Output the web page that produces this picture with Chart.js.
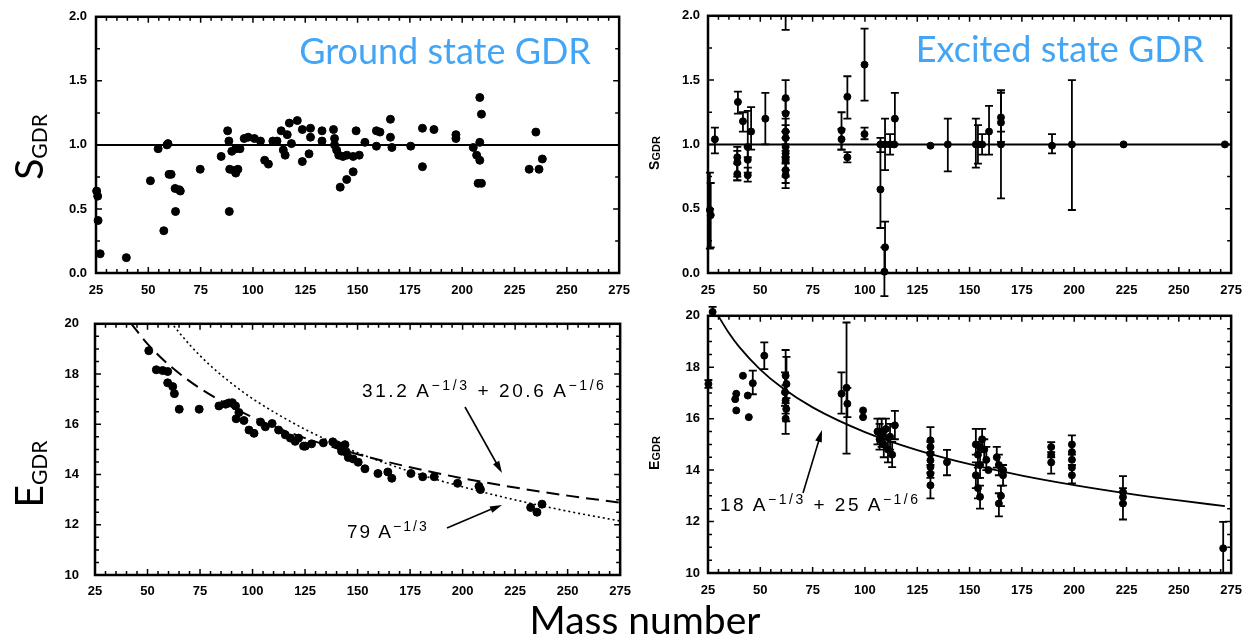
<!DOCTYPE html>
<html><head><meta charset="utf-8">
<script src="https://cdn.jsdelivr.net/npm/chart.js@4.4.1/dist/chart.umd.min.js"></script>
<style>
html,body{margin:0;padding:0;background:#fff;width:1252px;height:637px;overflow:hidden;position:relative;}
.wrap{position:absolute;}
#ov{position:absolute;left:0;top:0;pointer-events:none;}
</style></head>
<body>
<div class="wrap" style="left:0;top:0;width:640px;height:300px"><canvas id="cTL" width="640" height="300"></canvas></div>
<div class="wrap" style="left:640px;top:0;width:612px;height:300px"><canvas id="cTR" width="612" height="300"></canvas></div>
<div class="wrap" style="left:0;top:300px;width:640px;height:300px"><canvas id="cBL" width="640" height="300"></canvas></div>
<div class="wrap" style="left:640px;top:300px;width:612px;height:300px"><canvas id="cBR" width="612" height="300"></canvas></div>
<svg id="ov" width="1252" height="637">
  <text x="445" y="64" text-anchor="middle" font-family="Lato" font-size="36" fill="#42a5f5">Ground state GDR</text>
  <text x="1060" y="62" text-anchor="middle" font-family="Lato" font-size="36" fill="#42a5f5">Excited state GDR</text>
  <text x="645" y="634" text-anchor="middle" font-family="Lato" font-size="39" fill="#000">Mass number</text>
  <text transform="translate(43,147) rotate(-90)" text-anchor="middle" font-family="Lato" font-size="39" fill="#000">S<tspan font-size="21" dy="4">GDR</tspan></text>
  <text transform="translate(43,474) rotate(-90)" text-anchor="middle" font-family="Lato" font-size="39" fill="#000">E<tspan font-size="21" dy="4">GDR</tspan></text>
  <text transform="translate(659,153) rotate(-90)" text-anchor="middle" font-family="Liberation Sans" font-weight="bold" font-size="14" fill="#000">S<tspan font-size="11" dy="1">GDR</tspan></text>
  <text transform="translate(659,453) rotate(-90)" text-anchor="middle" font-family="Liberation Sans" font-weight="bold" font-size="14" fill="#000">E<tspan font-size="11" dy="1">GDR</tspan></text>
  <text x="362" y="397" font-family="Liberation Sans" font-size="19" letter-spacing="2.6" fill="#000">31.2 A<tspan font-size="14" dy="-7">−1/3</tspan><tspan dy="7"> + 20.6 A</tspan><tspan font-size="14" dy="-7">−1/6</tspan></text>
  <text x="347" y="538" font-family="Liberation Sans" font-size="19" letter-spacing="2" fill="#000">79 A<tspan font-size="14" dy="-7">−1/3</tspan></text>
  <text x="720" y="511" font-family="Liberation Sans" font-size="19" letter-spacing="2.5" fill="#000">18 A<tspan font-size="14" dy="-7">−1/3</tspan><tspan dy="7"> + 25 A</tspan><tspan font-size="14" dy="-7">−1/6</tspan></text>
  <g stroke="#000" stroke-width="1.6">
    <line x1="465" y1="407" x2="498" y2="466"/>
    <line x1="447" y1="528" x2="494" y2="508"/>
    <line x1="803" y1="493" x2="819" y2="440"/>
  </g>
  <g fill="#000">
    <polygon points="502,473 493.1,464.2 499.2,460.8"/>
    <polygon points="502,505 492.3,512.8 489.5,506.4"/>
    <polygon points="822,430 821.8,442.5 815.2,440.5"/>
  </g>
</svg>
<script>
// ---------- data ----------
const xTickValues = [25,50,75,100,125,150,175,200,225,250,275];
const sTickValues = [0,0.5,1,1.5,2];
const sTickLabels = ['0.0','0.5','1.0','1.5','2.0'];
const eTickValues = [10,12,14,16,18,20];
const eTickLabels = ['10','12','14','16','18','20'];

// Ground state strength
const gsS_A = [25.3,25.8,26,27,39.5,51.0,54.7,57.4,58.9,59.4,59.9,60.9,63.0,62.8,64.8,65.3,74.8,84.8,87.9,88.5,88.7,88.9,90.9,92.8,91.8,89.9,91.8,93.8,95.8,97.7,100.7,103.6,105.6,107.4,109.5,111.5,113.5,114.5,115.4,116.4,117.4,118.4,121.2,123.6,123.6,126.8,127.5,127.5,133.0,133.0,138.5,139.0,139.0,140.0,141.0,143.0,144.9,147.9,150.8,141.7,144.8,147.9,149.3,153.5,159.0,160.7,159.0,165.7,165.7,166.4,175.4,181.0,181.0,186.5,197.0,197.0,205.3,208.4,209.2,208.4,206.9,208.4,207.6,209.2,232.0,236.7,235.2,238.3];
const gsS_S = [0.64,0.60,0.41,0.15,0.12,0.72,0.97,0.33,1.00,1.01,0.77,0.77,0.48,0.66,0.65,0.64,0.81,0.91,1.11,1.03,0.48,0.81,0.80,0.81,0.78,0.95,0.97,0.97,1.05,1.06,1.05,1.03,0.88,0.85,1.03,1.03,1.11,0.96,0.92,1.08,1.17,1.01,1.19,0.87,1.12,0.93,1.13,1.06,1.11,1.03,1.12,1.05,1.00,0.96,0.92,0.91,0.92,0.91,0.92,0.67,0.73,0.79,1.11,1.02,1.11,1.10,0.99,1.20,1.06,0.98,0.99,1.13,0.83,1.12,1.08,1.05,0.98,1.37,1.24,1.02,0.92,0.88,0.70,0.70,0.81,0.81,1.10,0.89];

// Excited state strength with error bars
const exS_A  = [25.9,26.3,28.3,39.3,39.0,39.0,39.0,41.7,45.6,44.0,44.0,44.0,52.4,62.1,62.1,62.1,62.1,62.1,62.1,62.1,62.1,62.1,62.1,88.8,88.8,91.6,91.6,99.8,99.8,107.4,107.4,109.6,109.3,109.6,112.0,114.0,114.3,131.3,139.6,153.0,154.0,156.0,159.3,165.0,165.0,165.0,189.4,198.9,223.6,272.0];
const exS_S  = [0.49,0.45,1.04,1.33,0.90,0.86,0.77,1.18,1.10,0.98,0.88,0.76,1.20,1.36,1.24,1.10,1.05,0.98,0.93,0.88,0.80,0.76,2.10,1.11,1.04,1.37,0.90,1.62,1.08,1.00,0.65,0.20,0.01,1.00,1.00,1.00,1.20,0.99,1.00,1.00,1.00,1.00,1.10,1.17,1.21,1.00,0.99,1.00,1.00,1.00];
const exS_lo = [0.19,0.20,0.93,1.24,0.72,0.75,0.72,1.10,0.96,0.90,0.78,0.71,1.00,1.25,1.10,0.95,0.90,0.85,0.80,0.75,0.70,0.66,1.89,0.96,0.96,1.20,0.86,1.34,1.04,0.94,0.35,0.00,-0.18,0.80,0.92,null,1.00,null,0.79,0.82,0.85,0.92,0.92,1.02,1.10,0.58,0.93,0.49,null,null];
const exS_hi = [0.78,0.70,1.13,1.41,0.98,0.95,0.85,1.25,1.29,1.26,0.98,0.82,1.40,1.50,1.35,1.20,1.15,1.10,1.05,1.00,0.90,0.86,2.00,1.25,1.12,1.53,0.94,1.90,1.13,1.05,1.00,0.40,0.20,1.20,1.08,null,1.40,null,1.20,1.20,1.15,1.08,1.30,1.42,1.42,1.40,1.08,1.50,null,null];

// Ground state energy
const gsE_A = [50.6,54.2,57.2,59.6,59.6,62.0,62.8,65.1,74.6,84.0,87.2,88.8,90.4,91.9,93.5,92.2,95.9,98.3,100.7,103.8,106.1,109.3,112.4,115.6,118.0,120.3,121.9,124.3,125.1,128.1,133.7,138.2,140.0,141.6,144.0,142.4,144.8,145.6,147.9,150.3,153.5,159.7,164.4,166.3,175.4,181.0,186.5,197.6,207.8,208.5,232.4,235.4,237.8];
const gsE_E = [18.93,18.17,18.14,18.10,17.65,17.50,17.22,16.60,16.60,16.73,16.80,16.85,16.86,16.73,16.47,16.22,16.15,15.77,15.64,16.09,15.90,16.03,15.77,15.58,15.45,15.32,15.45,15.13,15.13,15.22,15.26,15.30,15.19,15.13,15.19,14.93,14.87,14.68,14.62,14.49,14.23,14.04,14.10,13.85,14.04,13.91,13.91,13.65,13.53,13.40,12.69,12.50,12.82];

// Excited state energy with error bars
const exE_A  = [27.2,25.2,38.5,38.0,38.5,41.7,44.0,44.5,46.4,51.9,62.1,62.5,61.8,62.1,62.4,62.1,88.8,91.2,91.6,99.1,99.1,106,107,108,109,110,111,112,113,114.3,131.3,131.3,131.3,131.3,131.3,131.3,131.3,139.2,153,154,155,153,154,155,156,157,158,159,155,163,164,165,164,166,166,189,189,189,198.9,198.9,198.9,198.9,198.9,223.3,223.3,223.3,271.2];
const exE_E  = [20.15,17.35,16.97,16.76,16.32,17.67,16.90,16.06,17.38,18.45,17.67,17.35,17.03,16.71,16.38,16.00,16.97,17.20,16.58,16.32,16.06,15.5,15.2,15.4,15.0,15.6,14.8,15.3,14.6,15.74,15.16,14.90,14.64,14.38,14.12,13.86,13.41,14.31,15.0,14.6,14.2,13.8,13.3,12.96,15.2,14.8,14.4,14.0,14.9,14.5,14.2,13.0,12.7,13.8,14.0,14.9,14.6,14.3,15.0,14.7,14.4,14.1,13.8,13.15,12.95,12.7,10.96];
const exE_lo = [20.0,17.2,null,null,null,null,null,null,16.95,17.93,17.0,16.8,16.5,16.2,15.9,15.41,16.2,14.64,16.06,null,null,15.0,14.8,14.9,14.5,15.2,14.3,14.8,14.12,15.2,14.7,null,14.2,null,13.7,null,12.9,13.8,14.6,14.1,13.7,13.3,12.9,12.5,14.8,14.3,14.0,null,null,14.1,13.8,12.6,12.2,13.4,null,14.5,null,13.86,14.6,null,null,null,13.48,12.7,null,12.08,10.0];
const exE_hi = [20.35,17.5,null,null,null,null,null,null,17.87,18.97,18.67,18.4,17.8,17.3,17.0,16.6,17.8,19.74,17.2,null,null,16.0,15.8,16.0,15.6,16.0,15.3,15.8,15.1,16.3,15.67,null,15.1,null,14.6,null,13.9,14.79,15.6,15.1,14.7,14.3,13.7,13.4,15.6,15.2,14.9,null,null,14.9,14.6,13.4,13.1,14.2,null,15.09,null,14.7,15.35,null,null,null,14.2,13.77,null,13.3,11.99];

// Reference line S = 1
const refA = [25,275];
const refS = [1,1];

// Fit curves
const dashA = [42,50,60,75,100,125,150,175,200,225,250,275];
const dashE = [20.03,19.20,18.38,17.43,16.28,15.45,14.81,14.29,13.85,13.48,13.16,12.88];
const dotA  = [61,70,80,90,100,125,150,175,200,225,250,275];
const dotE  = [20.07,19.17,18.33,17.63,17.02,15.80,14.87,14.12,13.51,12.99,12.54,12.15];
const fitExA = [29,35,40,50,60,75,100,125,150,175,200,225,250,272];
const fitExE = [20.12,19.33,18.78,17.91,17.23,16.44,15.48,14.78,14.23,13.79,13.42,13.10,12.82,12.60];

// ---------- helpers ----------
const pts = (xs, ys) => xs.map((x, i) => ({x: x, y: ys[i]}));

const framePlugin = {
  id: 'frame',
  afterDraw(chart, args, o) {
    const {ctx, chartArea: a, scales: {x, y}} = chart;
    ctx.save();
    ctx.strokeStyle = '#000';
    ctx.lineWidth = 2.5;
    ctx.strokeRect(a.left, a.top, a.right - a.left, a.bottom - a.top);
    ctx.lineWidth = 1.5;
    ctx.beginPath();
    const nx = Math.round((x.max - x.min) / o.xMinor);
    for (let i = 0; i <= nx; i++) {
      const v = x.min + i * o.xMinor;
      const px = x.getPixelForValue(v);
      const len = (i % o.xEvery === 0) ? 6 : 4;
      ctx.moveTo(px, a.bottom); ctx.lineTo(px, a.bottom - len);
      ctx.moveTo(px, a.top); ctx.lineTo(px, a.top + len);
    }
    const ny = Math.round((y.max - y.min) / o.yMinor);
    for (let i = 0; i <= ny; i++) {
      const v = y.min + i * o.yMinor;
      const py = y.getPixelForValue(v);
      const len = (i % o.yEvery === 0) ? 6 : 4;
      ctx.moveTo(a.left, py); ctx.lineTo(a.left + len, py);
      ctx.moveTo(a.right, py); ctx.lineTo(a.right - len, py);
    }
    ctx.stroke();
    ctx.restore();
  }
};

const errPlugin = {
  id: 'errbars',
  beforeDatasetsDraw(chart) {
    const {ctx, chartArea: a, scales: {x, y}} = chart;
    ctx.save();
    ctx.beginPath();
    ctx.rect(a.left - 10, a.top - 14, a.right - a.left + 20, a.bottom - a.top + 40);
    ctx.clip();
    ctx.strokeStyle = '#000';
    ctx.lineWidth = 1.8;
    chart.data.datasets.forEach(ds => {
      if (!ds.errLo) return;
      ds.data.forEach((p, i) => {
        const lo = ds.errLo[i], hi = ds.errHi[i];
        if (lo == null || hi == null) return;
        const px = x.getPixelForValue(p.x);
        const y1 = y.getPixelForValue(lo), y2 = y.getPixelForValue(hi);
        ctx.beginPath();
        ctx.moveTo(px, y1); ctx.lineTo(px, y2);
        ctx.moveTo(px - 4, y1); ctx.lineTo(px + 4, y1);
        ctx.moveTo(px - 4, y2); ctx.lineTo(px + 4, y2);
        ctx.stroke();
      });
    });
    ctx.restore();
  }
};

function makeOptions(c) {
  return {
    responsive: false,
    animation: false,
    events: [],
    layout: {autoPadding: false, padding: {left: 0, top: c.top, right: c.right, bottom: 0}},
    plugins: {
      legend: {display: false},
      tooltip: {enabled: false},
      frame: {xMinor: 5, xEvery: 5, yMinor: c.yMinor, yEvery: c.yEvery}
    },
    scales: {
      x: {
        type: 'linear', min: 25, max: 275,
        afterFit: s => { s.height = c.xh; },
        afterBuildTicks: s => { s.ticks = xTickValues.map(v => ({value: v})); },
        ticks: {padding: c.xpad, color: '#000', maxRotation: 0, autoSkip: false,
                font: {family: 'Liberation Sans', weight: 'bold', size: 13}},
        grid: {display: false, drawTicks: false},
        border: {display: false}
      },
      y: {
        type: 'linear', min: c.ymin, max: c.ymax,
        afterFit: s => { s.width = c.yw; },
        afterBuildTicks: s => { s.ticks = c.yvals.map(v => ({value: v})); },
        ticks: {padding: c.ypad, color: '#000', autoSkip: false,
                callback: (v, i) => c.ylabels[i],
                font: {family: 'Liberation Sans', weight: 'bold', size: 13}},
        grid: {display: false, drawTicks: false},
        border: {display: false}
      }
    }
  };
}

const dot = (data, r, extra) => Object.assign({
  type: 'scatter', data: data, pointRadius: r, pointBackgroundColor: '#000',
  pointBorderColor: '#000', pointBorderWidth: 1, showLine: false, clip: false
}, extra || {});

const sOpts = {ymin: 0, ymax: 2, yvals: sTickValues, ylabels: sTickLabels, yMinor: 0.25, yEvery: 2};
const eOpts = {ymin: 10, ymax: 20, yvals: eTickValues, ylabels: eTickLabels, yMinor: 0.5, yEvery: 4};

// Top-left: ground state strength
new Chart(document.getElementById('cTL'), {
  data: {datasets: [
    {type: 'line', data: pts(refA, refS), borderColor: '#000', borderWidth: 2, pointRadius: 0},
    dot(pts(gsS_A, gsS_S), 4)
  ]},
  options: makeOptions(Object.assign({top: 12, right: 14, xh: 27, yw: 96, xpad: 10, ypad: 9}, sOpts)),
  plugins: [framePlugin, errPlugin]
});

// Top-right: excited state strength
new Chart(document.getElementById('cTR'), {
  data: {datasets: [
    {type: 'line', data: pts(refA, refS), borderColor: '#000', borderWidth: 2, pointRadius: 0},
    dot(pts(exS_A, exS_S), 3.5, {errLo: exS_lo, errHi: exS_hi})
  ]},
  options: makeOptions(Object.assign({top: 12, right: 14, xh: 27, yw: 68, xpad: 10, ypad: 8}, sOpts)),
  plugins: [framePlugin, errPlugin]
});

// Bottom-left: ground state energy
new Chart(document.getElementById('cBL'), {
  data: {datasets: [
    {type: 'line', data: pts(dashA, dashE), borderColor: '#000', borderWidth: 2, borderDash: [13, 7],
     pointRadius: 0, cubicInterpolationMode: 'monotone'},
    {type: 'line', data: pts(dotA, dotE), borderColor: '#000', borderWidth: 1.6, borderDash: [2, 3],
     pointRadius: 0, cubicInterpolationMode: 'monotone'},
    dot(pts(gsE_A, gsE_E), 4)
  ]},
  options: makeOptions(Object.assign({top: 15, right: 16, xh: 25, yw: 95, xpad: 9, ypad: 16}, eOpts)),
  plugins: [framePlugin, errPlugin]
});

// Bottom-right: excited state energy
new Chart(document.getElementById('cBR'), {
  data: {datasets: [
    {type: 'line', data: pts(fitExA, fitExE), borderColor: '#000', borderWidth: 1.8,
     pointRadius: 0, cubicInterpolationMode: 'monotone'},
    dot(pts(exE_A, exE_E), 3.5, {errLo: exE_lo, errHi: exE_hi})
  ]},
  options: makeOptions(Object.assign({top: 15, right: 14, xh: 27, yw: 68, xpad: 10, ypad: 8}, eOpts)),
  plugins: [framePlugin, errPlugin]
});
</script>
</body></html>
